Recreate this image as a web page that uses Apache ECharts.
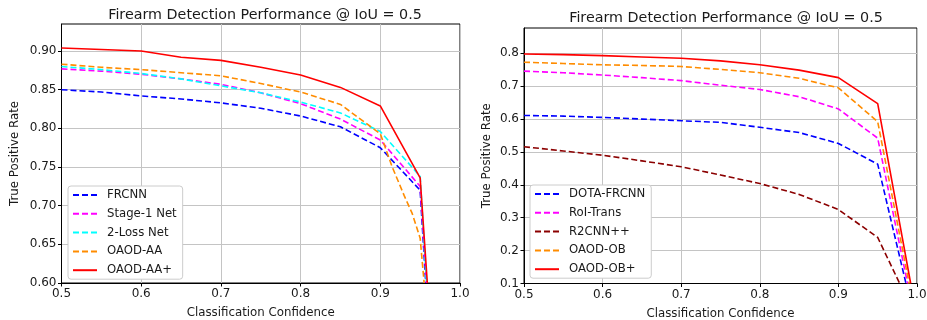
<!DOCTYPE html>
<html>
<head>
<meta charset="utf-8">
<script src="https://cdn.jsdelivr.net/npm/echarts@6/dist/echarts.min.js"></script>
<style>
  html, body { margin: 0; padding: 0; background: #fff; }
  #chart { width: 927px; height: 320px; }
</style>
</head>
<body>
<div id="chart"></div>
<script>
// left panel: axis-aligned detectors
const xLeft = [0.5, 0.55, 0.6, 0.65, 0.7, 0.75, 0.8, 0.85, 0.9, 0.95]
const frcnn = [0.850, 0.847, 0.842, 0.838, 0.833, 0.826, 0.816, 0.802, 0.775, 0.720]
const stage1 = [0.877, 0.874, 0.870, 0.864, 0.857, 0.846, 0.832, 0.812, 0.785, 0.725]
const loss2 = [0.880, 0.876, 0.871, 0.864, 0.855, 0.846, 0.834, 0.820, 0.796, 0.738]
const aaplus = [0.904, 0.902, 0.900, 0.892, 0.888, 0.879, 0.869, 0.853, 0.829, 0.736]
const xAA = [0.5, 0.55, 0.6, 0.65, 0.7, 0.75, 0.8, 0.85, 0.9, 0.915, 0.93, 0.94, 0.95, 0.955]
const aa = [0.883, 0.879, 0.876, 0.872, 0.868, 0.858, 0.847, 0.831, 0.793, 0.750, 0.713, 0.690, 0.658, 0.600]
// where each curve falls to the bottom of the axis
const leftEnd = { frcnn: 0.957, stage1: 0.958, loss2: 0.958, aaplus: 0.959 }
const leftYTicks = [0.6, 0.65, 0.7, 0.75, 0.8, 0.85, 0.9]

// right panel: oriented-box detectors
const xRight = [0.5, 0.55, 0.6, 0.65, 0.7, 0.75, 0.8, 0.85, 0.9, 0.95]
const dota = [0.611, 0.609, 0.605, 0.600, 0.595, 0.590, 0.575, 0.559, 0.526, 0.463]
const roiTrans = [0.746, 0.741, 0.734, 0.726, 0.717, 0.703, 0.690, 0.668, 0.631, 0.542]
const r2cnn = [0.516, 0.503, 0.490, 0.473, 0.455, 0.430, 0.404, 0.371, 0.325, 0.240]
const ob = [0.773, 0.769, 0.765, 0.763, 0.760, 0.751, 0.741, 0.724, 0.695, 0.592]
const obplus = [0.798, 0.796, 0.793, 0.789, 0.785, 0.777, 0.765, 0.749, 0.726, 0.647]
const rightEnd = { dota: 0.986, roiTrans: 0.988, r2cnn: 0.978, ob: 0.990, obplus: 0.992 }
const rightYTicks = [0.1, 0.2, 0.3, 0.4, 0.5, 0.6, 0.7, 0.8]
const xTicks = [0.5, 0.6, 0.7, 0.8, 0.9, 1.0]

const FONT = 'DejaVu Sans'
const TEXT = '#1a1a1a'

const pairs = (xs, ys, endX, endY) => {
  const d = xs.map((x, i) => [x, ys[i]])
  if (endX != null) d.push([endX, endY])
  return d
}

const mkSeries = (name, data, color, dashed, idx) => ({
  name,
  type: 'line',
  xAxisIndex: idx,
  yAxisIndex: idx,
  data,
  symbol: 'none',
  clip: true,
  lineStyle: { color, width: 1.6, type: dashed ? [6, 3] : 'solid' },
  itemStyle: { color },
  z: dashed ? 2 : 3,
})

const xAxisBase = (idx) => ({
  type: 'value',
  gridIndex: idx,
  min: 0.5,
  max: 1.0,
  interval: 0.1,
  name: 'Classification Confidence',
  nameLocation: 'middle',
  nameGap: 24,
  nameTextStyle: { fontFamily: FONT, fontSize: 11.8, color: TEXT },
  axisLine: { show: true, onZero: false, lineStyle: { color: '#000', width: 1 } },
  axisTick: { show: true, length: 3.5, lineStyle: { color: '#000' }, customValues: xTicks },
  axisLabel: {
    fontFamily: FONT, fontSize: 12, color: TEXT, margin: 5,
    customValues: xTicks,
    formatter: (v) => v.toFixed(1),
  },
  splitLine: { show: true, lineStyle: { color: '#c4c4c4', width: 1 } },
})

const yAxisBase = (idx, min, max, interval, ticks, digits, gap) => ({
  type: 'value',
  gridIndex: idx,
  min, max, interval,
  name: 'True Positive Rate',
  nameLocation: 'middle',
  nameGap: gap,
  nameTextStyle: { fontFamily: FONT, fontSize: 11.8, color: TEXT },
  axisLine: { show: true, onZero: false, lineStyle: { color: '#000', width: 1 } },
  axisTick: { show: true, length: 3.5, lineStyle: { color: '#000' }, customValues: ticks },
  axisLabel: {
    fontFamily: FONT, fontSize: 12, color: TEXT, margin: 5,
    customValues: ticks,
    formatter: (v) => v.toFixed(digits),
  },
  splitLine: { show: true, lineStyle: { color: '#c4c4c4', width: 1 } },
})

const legendBase = (left, top, names) => ({
  orient: 'vertical',
  left, top,
  data: names,
  itemWidth: 24,
  itemHeight: 11,
  itemGap: 6.8,
  padding: [3, 6, 3, 4],
  backgroundColor: '#fff',
  borderColor: '#cccccc',
  borderWidth: 1,
  borderRadius: 3,
  selectedMode: false,
  itemStyle: { opacity: 0 },
  textStyle: { fontFamily: FONT, fontSize: 11.7, color: TEXT, padding: [0, 0, 0, 5] },
})

const chart = echarts.init(document.getElementById('chart'), null, { renderer: 'canvas' })

const option = {
  backgroundColor: '#fff',
  animation: false,
  title: [
    { text: 'Firearm Detection Performance @ IoU = 0.5', left: 260, top: 3, textAlign: 'center',
      textStyle: { fontFamily: FONT, fontSize: 14.3, fontWeight: 'normal', color: TEXT } },
    { text: 'Firearm Detection Performance @ IoU = 0.5', left: 721, top: 6, textAlign: 'center',
      textStyle: { fontFamily: FONT, fontSize: 14.3, fontWeight: 'normal', color: TEXT } },
  ],
  grid: [
    { left: 61.5, top: 24, width: 398.5, height: 259, outerBoundsMode: 'none', containLabel: false,
      show: true, borderColor: '#000', borderWidth: 1, backgroundColor: 'transparent' },
    { left: 524, top: 28, width: 393, height: 255.5, outerBoundsMode: 'none', containLabel: false,
      show: true, borderColor: '#000', borderWidth: 1, backgroundColor: 'transparent' },
  ],
  xAxis: [xAxisBase(0), xAxisBase(1)],
  yAxis: [
    yAxisBase(0, 0.6, 0.935, 0.05, leftYTicks, 2, 41),
    yAxisBase(1, 0.1, 0.877, 0.1, rightYTicks, 1, 31),
  ],
  legend: [
    legendBase(68, 186, ['FRCNN', 'Stage-1 Net', '2-Loss Net', 'OAOD-AA', 'OAOD-AA+']),
    legendBase(530, 185, ['DOTA-FRCNN', 'RoI-Trans', 'R2CNN++', 'OAOD-OB', 'OAOD-OB+']),
  ],
  series: [
    mkSeries('FRCNN', pairs(xLeft, frcnn, leftEnd.frcnn, 0.6), '#0000ff', true, 0),
    mkSeries('Stage-1 Net', pairs(xLeft, stage1, leftEnd.stage1, 0.6), '#ff00ff', true, 0),
    mkSeries('2-Loss Net', pairs(xLeft, loss2, leftEnd.loss2, 0.6), '#00ffff', true, 0),
    mkSeries('OAOD-AA', pairs(xAA, aa), '#ff8c00', true, 0),
    mkSeries('OAOD-AA+', pairs(xLeft, aaplus, leftEnd.aaplus, 0.6), '#ff0000', false, 0),

    mkSeries('DOTA-FRCNN', pairs(xRight, dota, rightEnd.dota, 0.1), '#0000ff', true, 1),
    mkSeries('RoI-Trans', pairs(xRight, roiTrans, rightEnd.roiTrans, 0.1), '#ff00ff', true, 1),
    mkSeries('R2CNN++', pairs(xRight, r2cnn, rightEnd.r2cnn, 0.1), '#8b0000', true, 1),
    mkSeries('OAOD-OB', pairs(xRight, ob, rightEnd.ob, 0.1), '#ff8c00', true, 1),
    mkSeries('OAOD-OB+', pairs(xRight, obplus, rightEnd.obplus, 0.1), '#ff0000', false, 1),
  ],
}

chart.setOption(option)
</script>
</body>
</html>
